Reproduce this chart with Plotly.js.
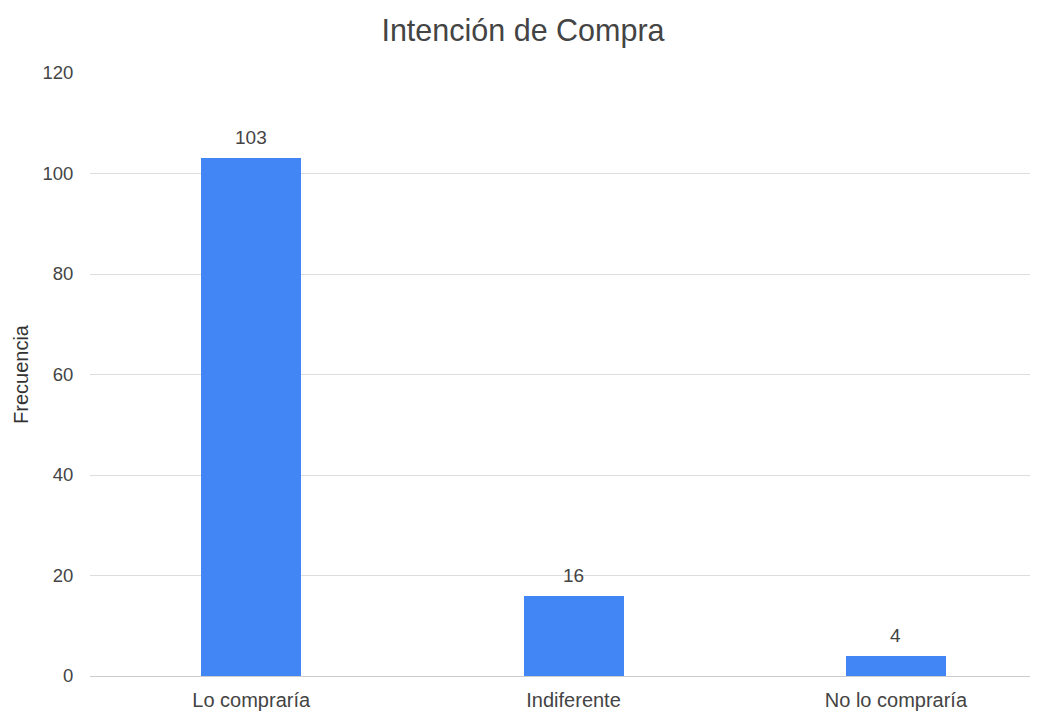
<!DOCTYPE html>
<html>
<head>
<meta charset="utf-8">
<script src="https://cdn.plot.ly/plotly-3.0.1.min.js"></script>
<style>html,body{margin:0;padding:0;background:#fff;}#chart{width:1046px;height:713px;}</style>
</head>
<body>
<div id="chart"></div>
<script>
const categories = ["Lo compraría", "Indiferente", "No lo compraría"];
const values = [103, 16, 4];
const yTicks = [0, 20, 40, 60, 80, 100, 120];

const trace = {
  type: "bar",
  x: categories,
  y: values,
  width: 0.31,
  marker: {color: "#4285f4"},
  hoverinfo: "x+y"
};

const annotations = categories.map((c, i) => ({
  x: c, y: values[i], text: String(values[i]),
  showarrow: false, yanchor: "bottom", yshift: 8,
  font: {family: "Liberation Sans, Arial, sans-serif", size: 19, color: "#444"}
}));

const layout = {
  width: 1046, height: 713,
  margin: {l: 90, r: 16, t: 73, b: 37},
  paper_bgcolor: "#fff", plot_bgcolor: "#fff",
  font: {family: "Liberation Sans, Arial, sans-serif", size: 18, color: "#444"},
  title: {text: "Intención de Compra", x: 0.5, xanchor: "center", y: 0.958, yanchor: "middle",
          font: {size: 30.5, color: "#444"}},
  xaxis: {
    type: "category", range: [-0.5, 2.416],
    showgrid: false, zeroline: false, showline: false,
    ticks: "outside", ticklen: 6, tickcolor: "rgba(0,0,0,0)",
    tickfont: {size: 20, color: "#444"}
  },
  yaxis: {
    range: [0, 120], tickvals: yTicks, ticktext: yTicks.map(String),
    showgrid: true, gridcolor: "#dddddd", gridwidth: 1,
    zeroline: true, zerolinecolor: "#cccccc", zerolinewidth: 1,
    showline: false,
    ticks: "outside", ticklen: 12, tickcolor: "rgba(0,0,0,0)",
    tickfont: {size: 18.5, color: "#444"},
    title: {text: "Frecuencia", standoff: 8, font: {size: 20, color: "#333"}}
  },
  annotations: annotations,
  showlegend: false,
  bargap: 0
};

Plotly.newPlot("chart", [trace], layout, {displayModeBar: false, staticPlot: true});
</script>
</body>
</html>
